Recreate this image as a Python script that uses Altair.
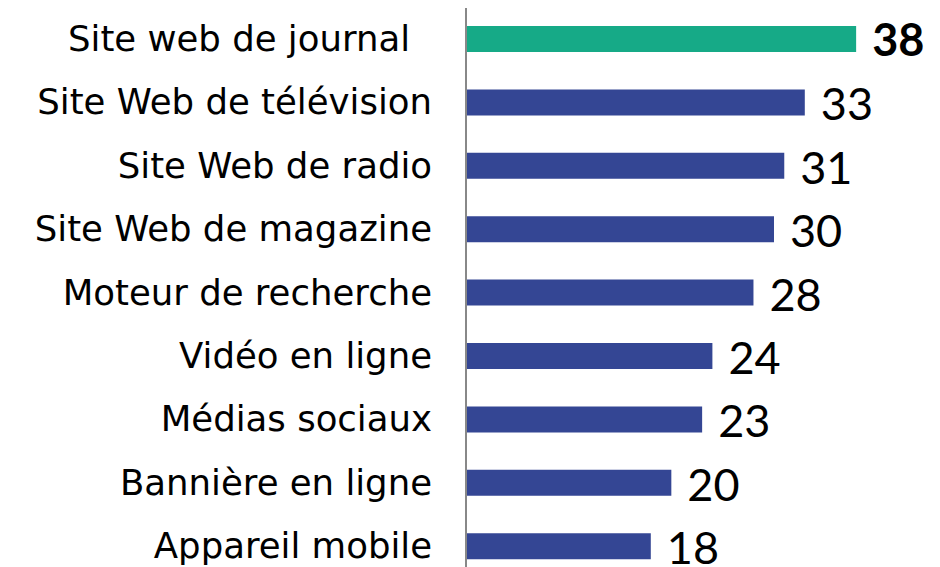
import altair as alt
import pandas as pd

categories = [
    "Site web de journal",
    "Site Web de télévision",
    "Site Web de radio",
    "Site Web de magazine",
    "Moteur de recherche",
    "Vidéo en ligne",
    "Médias sociaux",
    "Bannière en ligne",
    "Appareil mobile",
]
values = [38, 33, 31, 30, 28, 24, 23, 20, 18]
highlight = [True, False, False, False, False, False, False, False, False]

df = pd.DataFrame({"cat": categories, "val": values, "hl": highlight})

W = 462
H = 559

yenc = alt.Y(
    "cat:N",
    sort=categories,
    scale=alt.Scale(range=[18, 551.2], paddingInner=0.59, paddingOuter=0),
    axis=None,
)
xenc = alt.X("val:Q", scale=alt.Scale(domain=[0, 45]), axis=None)

bars = alt.Chart(df).mark_bar().encode(
    x=xenc,
    y=yenc,
    color=alt.Color(
        "hl:N",
        scale=alt.Scale(domain=[True, False], range=["#16AA87", "#344694"]),
        legend=None,
    ),
)

cat_norm = alt.Chart(df).transform_filter("!datum.hl").mark_text(
    align="right", baseline="middle", dy=1, font="DejaVu Sans", fontSize=35.5, color="#000000"
).encode(x=alt.value(-34), y=yenc, text="cat:N")

cat_hl = alt.Chart(df).transform_filter("datum.hl").mark_text(
    align="right", baseline="middle", dy=1, font="DejaVu Sans", fontSize=35.5, color="#000000"
).encode(x=alt.value(-56), y=yenc, text="cat:N")

labels_norm = alt.Chart(df).transform_filter("!datum.hl").mark_text(
    align="left", baseline="middle", dx=16, dy=4, font="Lato", fontSize=45, color="#000000"
).encode(x=xenc, y=yenc, text="val:Q")

labels_bold = alt.Chart(df).transform_filter("datum.hl").mark_text(
    align="left", baseline="middle", dx=16, dy=3, font="Lato", fontSize=45,
    fontWeight="bold", color="#000000"
).encode(x=xenc, y=yenc, text="val:Q")

axis_line = alt.Chart(df).mark_rule(color="#888888", strokeWidth=2).encode(
    x=alt.value(0), y=alt.value(-2), y2=alt.value(H + 10)
)

chart = (
    alt.layer(bars, cat_norm, cat_hl, labels_norm, labels_bold, axis_line)
    .properties(
        width=W,
        height=H,
        autosize=alt.AutoSizeParams(type="none"),
        padding={"left": 458, "top": 0, "right": 0, "bottom": 0},
    )
    .configure_view(stroke=None)
)

chart.save("out.html", embed_options={"renderer": "svg", "actions": False})
